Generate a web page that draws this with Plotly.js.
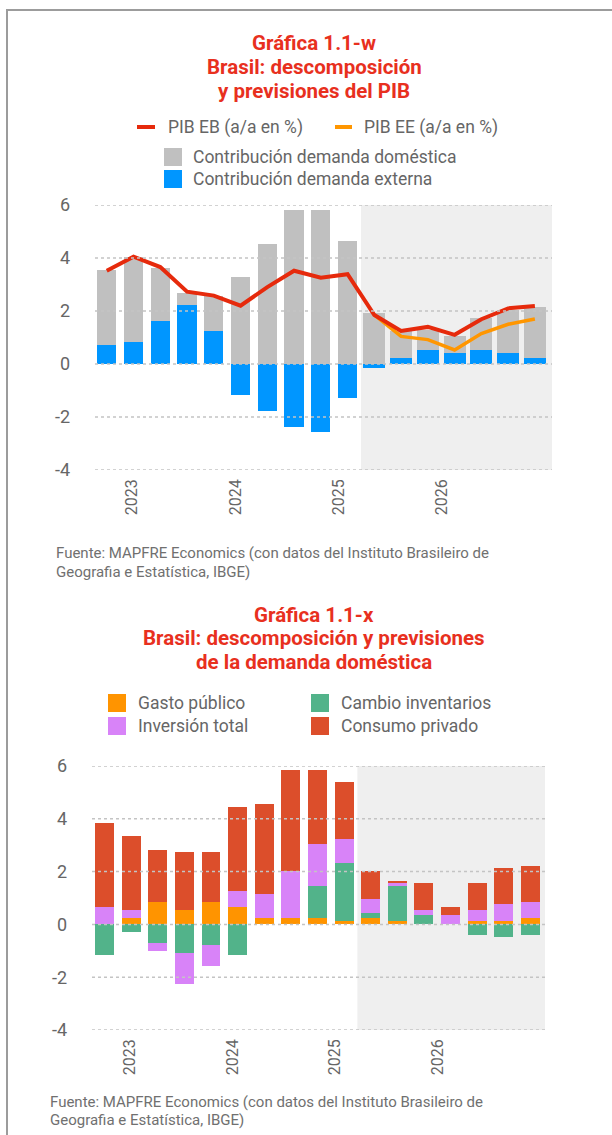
<!DOCTYPE html>
<html>
<head>
<meta charset="utf-8">
<script src="https://cdn.plot.ly/plotly-3.0.1.min.js"></script>
<style>
  html, body { margin: 0; padding: 0; background: #fff; }
  #chart { position: absolute; left: 0; top: 0; width: 612px; height: 1135px; }
  #frame { position: absolute; left: 6px; top: 9px; width: 606px; height: 1126px;
           border-top: 2px solid #9c9c9c; border-left: 2px solid #9c9c9c; pointer-events: none; }
</style>
</head>
<body>
<div id="chart"></div>
<div id="frame"></div>
<script>
// ---------- DATA ----------
const quarters = ['2022T4','2023T1','2023T2','2023T3','2023T4','2024T1','2024T2','2024T3','2024T4',
                  '2025T1','2025T2','2025T3','2025T4','2026T1','2026T2','2026T3','2026T4'];
const yearLabels = ['2023','2024','2025','2026'];
const firstForecast = 10;

// Gráfica 1.1-w
const pibEB   = [3.52, 4.05, 3.66, 2.73, 2.58, 2.20, 2.90, 3.52, 3.26, 3.39, 1.85, 1.25, 1.40, 1.10, 1.69, 2.10, 2.19];
const pibEE   = [null, null, null, null, null, null, null, null, null, null, 1.85, 1.04, 0.92, 0.53, 1.15, 1.50, 1.70];
const demDom  = [2.82, 3.18, 2.00, 0.44, 1.31, 3.30, 4.54, 5.82, 5.82, 4.65, 1.94, 1.01, 0.76, 0.63, 1.20, 1.60, 1.92];
const demExt  = [0.73, 0.84, 1.63, 2.24, 1.25, -1.17, -1.76, -2.36, -2.55, -1.28, -0.16, 0.24, 0.54, 0.43, 0.54, 0.43, 0.24];

// Gráfica 1.1-x
const gastoPublico = [0, 0.24, 0.84, 0.54, 0.84, 0.65, 0.24, 0.24, 0.24, 0.12, 0.24, 0.12, 0, 0, 0.12, 0.12, 0.24];
const inventarios  = [-1.17, -0.27, -0.70, -1.07, -0.77, -1.17, 0, 0, 1.20, 2.22, 0.19, 1.32, 0.35, 0, -0.40, -0.47, -0.40];
const inversion    = [0.65, 0.30, -0.29, -1.19, -0.82, 0.60, 0.90, 1.80, 1.61, 0.90, 0.52, 0.11, 0.19, 0.35, 0.42, 0.64, 0.60];
const consumo      = [3.19, 2.81, 1.98, 2.21, 1.91, 3.21, 3.41, 3.80, 2.79, 2.17, 1.09, 0.08, 1.01, 0.30, 1.01, 1.39, 1.38];

const names1 = ['PIB EB (a/a en %)', 'PIB EE (a/a en %)', 'Contribución demanda doméstica', 'Contribución demanda externa'];
const names2 = ['Gasto público', 'Cambio inventarios', 'Inversión total', 'Consumo privado'];

// ---------- STYLE ----------
const C = {
  red: '#e62a0c', orange: '#ff9600', gray: '#c0c0c0', blue: '#0096ff',
  gOrange: '#ff9400', gGreen: '#52b38a', gPurple: '#d883f8', gRed: '#dc4e2b',
  title: '#e8301e', text: '#666666', grid: '#c4c4c4', shade: '#efefef'
};
const FONT = 'Roboto, "Open Sans", sans-serif';
const W = 612, H = 1135;
const px = x => x / W, py = y => 1 - y / H;

const xIdx = quarters.map((q, i) => i);
const w1 = quarters.map((q, i) => i >= firstForecast ? 0.82 : 0.72);
const w2 = quarters.map(() => 0.71);
const yearTickVals = yearLabels.map((y, k) => 0.95 + 3.86 * k);

const traces = [
  // top chart
  {type: 'bar', x: xIdx, y: demExt, width: w1, name: names1[3], marker: {color: C.blue},
   xaxis: 'x', yaxis: 'y', showlegend: false, hoverinfo: 'y'},
  {type: 'bar', x: xIdx, y: demDom, width: w1, name: names1[2], marker: {color: C.gray},
   xaxis: 'x', yaxis: 'y', showlegend: false, hoverinfo: 'y'},
  {type: 'scatter', mode: 'lines', x: xIdx, y: pibEE, name: names1[1],
   line: {color: C.orange, width: 3.5}, xaxis: 'x', yaxis: 'y', showlegend: false},
  {type: 'scatter', mode: 'lines', x: xIdx, y: pibEB, name: names1[0],
   line: {color: C.red, width: 4}, xaxis: 'x', yaxis: 'y', showlegend: false},
  // bottom chart
  {type: 'bar', x: xIdx, y: gastoPublico, width: w2, name: names2[0], marker: {color: C.gOrange},
   xaxis: 'x2', yaxis: 'y2', showlegend: false},
  {type: 'bar', x: xIdx, y: inventarios, width: w2, name: names2[1], marker: {color: C.gGreen},
   xaxis: 'x2', yaxis: 'y2', showlegend: false},
  {type: 'bar', x: xIdx, y: inversion, width: w2, name: names2[2], marker: {color: C.gPurple},
   xaxis: 'x2', yaxis: 'y2', showlegend: false},
  {type: 'bar', x: xIdx, y: consumo, width: w2, name: names2[3], marker: {color: C.gRed},
   xaxis: 'x2', yaxis: 'y2', showlegend: false}
];

const yTicks = [-4, -2, 0, 2, 4, 6];
function yAxis(domain, anchor) {
  return {domain: domain, anchor: anchor, range: [-4, 6], tickvals: yTicks, ticktext: yTicks.map(String),
          showgrid: false, zeroline: false, showline: false, ticks: '', ticklabelstandoff: 24,
          tickfont: {family: FONT, size: 18, color: C.text}, fixedrange: true};
}
function xAxis(domain, anchor, range) {
  return {domain: domain, anchor: anchor, range: range, tickvals: yearTickVals, ticktext: yearLabels,
          tickangle: -90, showgrid: false, zeroline: false, showline: false, ticks: '',
          ticklabelstandoff: 5, tickfont: {family: FONT, size: 16, color: C.text}, fixedrange: true};
}

const range1 = [-0.44, 16.64], range2 = [-0.47, 16.55];
const shapes = [];
// forecast shading
shapes.push({type: 'rect', xref: 'x', yref: 'y domain', x0: 9.5, x1: range1[1], y0: 0, y1: 1,
             fillcolor: C.shade, line: {width: 0}, layer: 'below'});
shapes.push({type: 'rect', xref: 'x2', yref: 'y2 domain', x0: 9.5, x1: range2[1], y0: 0, y1: 1,
             fillcolor: C.shade, line: {width: 0}, layer: 'below'});
// dotted grid lines on top of bars
yTicks.forEach(v => {
  shapes.push({type: 'line', xref: 'x domain', yref: 'y', x0: 0, x1: 1, y0: v, y1: v,
               line: {color: C.grid, width: 1.5, dash: 'dot'}, layer: 'above'});
  shapes.push({type: 'line', xref: 'x2 domain', yref: 'y2', x0: 0, x1: 1, y0: v, y1: v,
               line: {color: C.grid, width: 1.5, dash: 'dot'}, layer: 'above'});
});

const annotations = [];
function txt(t, x, y, opts) {
  opts = opts || {};
  annotations.push(Object.assign({
    text: t, xref: 'paper', yref: 'paper', x: px(x), y: py(y), showarrow: false,
    xanchor: 'left', yanchor: 'middle',
    font: {family: FONT, size: 17.5, color: C.text}
  }, opts));
}
function titleLine(t, y) {
  txt('<b>' + t + '</b>', 314, y, {xanchor: 'center', font: {family: FONT, size: 20.5, color: C.title}});
}
// titles
titleLine('Gráfica 1.1-w', 43);
titleLine('Brasil: descomposición', 67);
titleLine('y previsiones del PIB', 91);
titleLine('Gráfica 1.1-x', 615);
titleLine('Brasil: descomposición y previsiones', 638);
titleLine('de la demanda doméstica', 662);

// legend, top chart
function legLine(x0, x1, y, color, w) {
  shapes.push({type: 'line', xref: 'paper', yref: 'paper', x0: px(x0), x1: px(x1), y0: py(y), y1: py(y),
               line: {color: color, width: w}});
}
function legBox(x0, y, size, color) {
  shapes.push({type: 'rect', xref: 'paper', yref: 'paper', x0: px(x0), x1: px(x0 + size),
               y0: py(y - size / 2), y1: py(y + size / 2), fillcolor: color, line: {width: 0}});
}
legLine(137, 155, 127, C.red, 4);
txt(names1[0], 166, 127);
legLine(335, 352, 127, C.orange, 4);
txt(names1[1], 362, 127);
legBox(164, 157, 18, C.gray);
txt(names1[2], 191, 157);
legBox(164, 179, 18, C.blue);
txt(names1[3], 191, 179);

// legend, bottom chart
legBox(108, 703, 18, C.gOrange);
txt(names2[0], 136, 703);
legBox(311, 703, 18, C.gGreen);
txt(names2[1], 339, 703);
legBox(108, 726, 18, C.gPurple);
txt(names2[2], 136, 726);
legBox(311, 726, 18, C.gRed);
txt(names2[3], 339, 726);

// sources
const srcFont = {family: FONT, size: 15, color: '#707070'};
txt('Fuente: MAPFRE Economics (con datos del Instituto Brasileiro de', 54, 553, {font: srcFont});
txt('Geografia e Estatística, IBGE)', 54, 572, {font: srcFont});
txt('Fuente: MAPFRE Economics (con datos del Instituto Brasileiro de', 48, 1102, {font: srcFont});
txt('Geografia e Estatística, IBGE)', 48, 1120, {font: srcFont});

const layout = {
  width: W, height: H, margin: {l: 0, r: 0, t: 0, b: 0},
  paper_bgcolor: '#ffffff', plot_bgcolor: 'rgba(0,0,0,0)',
  barmode: 'relative', bargap: 0, showlegend: false,
  font: {family: FONT, color: C.text},
  xaxis: xAxis([px(95), px(552)], 'y', range1),
  yaxis: yAxis([py(470), py(205)], 'x'),
  xaxis2: xAxis([px(92), px(545)], 'y2', range2),
  yaxis2: yAxis([py(1030), py(766)], 'x2'),
  shapes: shapes,
  annotations: annotations
};

Plotly.newPlot('chart', traces, layout, {staticPlot: true, displayModeBar: false});
</script>
</body>
</html>
